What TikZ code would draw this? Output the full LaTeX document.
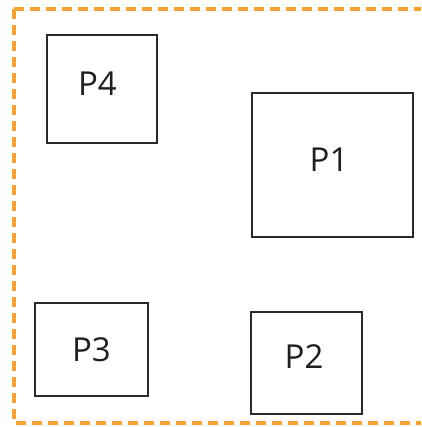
\documentclass[tikz,border=0pt]{standalone}
\usepackage{fontspec}
\setmainfont{Open Sans}
\definecolor{dashorange}{HTML}{F5A232}
\definecolor{boxline}{HTML}{2A2A2A}
\tikzset{
  pbox/.style={draw=boxline, line width=1.8pt, fill=white, inner sep=0pt},
  ptext/.style={inner sep=0pt, font=\fontsize{33}{36}\selectfont, text=black!88},
  frame/.style={draw=dashorange, line width=3.5pt, dash pattern=on 10pt off 6pt}
}
\begin{document}
\begin{tikzpicture}[x=1pt,y=-1pt]
\useasboundingbox (0,0) rectangle (421,427);
\clip (0,0) rectangle (421,427);
\draw[frame] (14,9) -- (14,423) -- (440,423);
\draw[frame] (14,9) -- (440,9);
\node[pbox, minimum width=110pt, minimum height=108pt] (p4) at (102,89) {};
\node[pbox, minimum width=161pt, minimum height=144pt] (p1) at (332.5,165) {};
\node[pbox, minimum width=113pt, minimum height=93pt] (p3) at (91.5,349.5) {};
\node[pbox, minimum width=111pt, minimum height=102pt] (p2) at (306.5,363) {};
\node[ptext] (p4t) at (97.5,84) {P4};
\node[ptext] (p1t) at (329,160) {P1};
\node[ptext] (p3t) at (91.5,349.5) {P3};
\node[ptext] (p2t) at (304,357) {P2};
\end{tikzpicture}
\end{document}
